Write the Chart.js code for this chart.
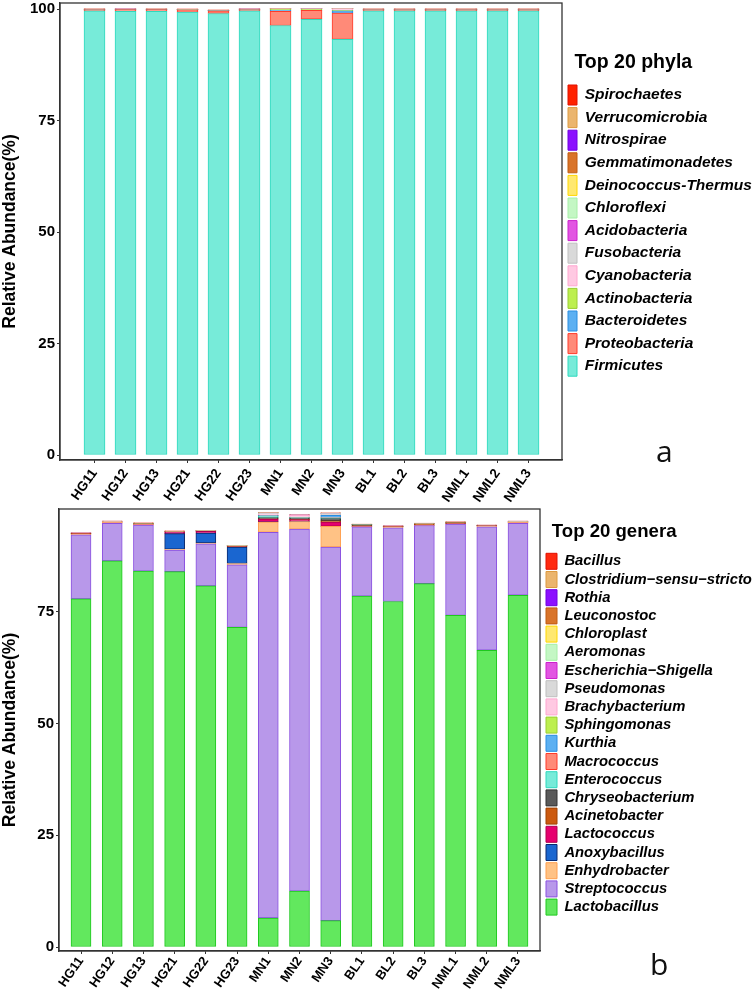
<!DOCTYPE html>
<html><head><meta charset="utf-8">
<script src="https://cdn.jsdelivr.net/npm/chart.js@4.4.0/dist/chart.umd.min.js"></script>
<style>
html,body{margin:0;padding:0;background:#fff;}
#wrap{position:relative;width:756px;height:990px;overflow:hidden;background:#fff;}
.cv{position:absolute;left:0;width:756px;}
.tag{position:absolute;font-family:"Open Sans","Noto Sans",sans-serif;font-size:30px;line-height:30px;color:#111;}
</style></head><body>
<div id="wrap">
<div class="cv" style="top:0;height:505px"><canvas id="c1"></canvas></div>
<div class="cv" style="top:505px;height:485px"><canvas id="c2"></canvas></div>
<div class="tag" style="left:656px;top:436px">a</div>
<div class="tag" style="left:650px;top:949px">b</div>
</div>
<script>
// ---------- categories ----------
const samples = ['HG11','HG12','HG13','HG21','HG22','HG23','MN1','MN2','MN3','BL1','BL2','BL3','NML1','NML2','NML3'];
const yTicksA = [0, 25, 50, 75, 100];
const yTicksB = [0, 25, 50, 75];

// ---------- panel a: phyla (stack order bottom -> top) ----------
const phylaNames = ['Firmicutes','Proteobacteria','Bacteroidetes','Actinobacteria','Cyanobacteria','Fusobacteria','Acidobacteria','Chloroflexi','Deinococcus-Thermus','Gemmatimonadetes','Nitrospirae','Verrucomicrobia','Spirochaetes'];
const firmicutes       = [99.6, 99.5, 99.5, 99.3, 99.0, 99.6, 96.3, 97.7, 93.2, 99.6, 99.6, 99.6, 99.6, 99.6, 99.6];
const proteobacteria   = [0.3, 0.4, 0.4, 0.5, 0.6, 0.3, 3.2, 2.0, 5.9, 0.3, 0.3, 0.3, 0.3, 0.3, 0.3];
const bacteroidetes    = [0.02, 0.02, 0.02, 0.03, 0.03, 0.02, 0.25, 0.08, 0.5, 0.02, 0.02, 0.02, 0.02, 0.02, 0.02];
const actinobacteria   = [0.02, 0.03, 0.02, 0.03, 0.03, 0.03, 0.2, 0.2, 0.1, 0.02, 0.02, 0.02, 0.02, 0.02, 0.02];
const cyanobacteria    = [0.01, 0.01, 0.01, 0.01, 0.01, 0.01, 0.03, 0.03, 0.3, 0.01, 0.01, 0.01, 0.01, 0.01, 0.01];
const fusobacteria     = [0.01, 0.01, 0.01, 0.01, 0.01, 0.01, 0.02, 0.02, 0.03, 0.01, 0.01, 0.01, 0.01, 0.01, 0.01];
const acidobacteria    = [0.01, 0.01, 0.01, 0.01, 0.01, 0.01, 0.01, 0.01, 0.02, 0.01, 0.01, 0.01, 0.01, 0.01, 0.01];
const chloroflexi      = [0.01, 0.01, 0.01, 0.01, 0.01, 0.01, 0.01, 0.01, 0.02, 0.01, 0.01, 0.01, 0.01, 0.01, 0.01];
const deinococcus      = [0.01, 0.01, 0.01, 0.01, 0.01, 0.01, 0.01, 0.01, 0.01, 0.01, 0.01, 0.01, 0.01, 0.01, 0.01];
const gemmatimonadetes = [0.01, 0.01, 0.01, 0.01, 0.01, 0.01, 0.01, 0.01, 0.01, 0.01, 0.01, 0.01, 0.01, 0.01, 0.01];
const nitrospirae      = [0.01, 0.01, 0.01, 0.01, 0.01, 0.01, 0.01, 0.01, 0.01, 0.01, 0.01, 0.01, 0.01, 0.01, 0.01];
const verrucomicrobia  = [0.01, 0.01, 0.01, 0.01, 0.01, 0.01, 0.01, 0.01, 0.01, 0.01, 0.01, 0.01, 0.01, 0.01, 0.01];
const spirochaetes     = [0.01, 0.01, 0.01, 0.1, 0.1, 0.01, 0.02, 0.02, 0.02, 0.01, 0.01, 0.01, 0.01, 0.01, 0.01];
const phylaValues = [firmicutes, proteobacteria, bacteroidetes, actinobacteria, cyanobacteria, fusobacteria, acidobacteria, chloroflexi, deinococcus, gemmatimonadetes, nitrospirae, verrucomicrobia, spirochaetes];
const phylaFill   = ['#77EBD9','#FF8A78','#5CB0F2','#BDEF4F','#FFC9E2','#D9D9D9','#E255E2','#C4F7C4','#FFE870','#D9742A','#8C10FF','#EBB56E','#FF2200'];
const phylaLine   = ['#2FD9BE','#FF3B2A','#2A8DE0','#9ACD32','#FFA6D0','#BFBFBF','#CC22CC','#A6EFA6','#FFD700','#C05A10','#7000E0','#DD9A40','#E01000'];

// ---------- panel b: genera (stack order bottom -> top) ----------
const generaNames = ['Lactobacillus','Streptococcus','Enhydrobacter','Anoxybacillus','Lactococcus','Acinetobacter','Chryseobacterium','Enterococcus','Macrococcus','Kurthia','Sphingomonas','Brachybacterium','Pseudomonas','Escherichia\u2212Shigella','Aeromonas','Chloroplast','Leuconostoc','Rothia','Clostridium\u2212sensu\u2212stricto','Bacillus'];
const lactobacillus    = [77.9, 86.4, 84.1, 84.0, 80.8, 71.5, 6.5, 12.5, 5.9, 78.5, 77.3, 81.3, 74.2, 66.4, 78.7];
const streptococcus    = [14.3, 8.4, 10.3, 4.8, 9.4, 14.0, 86.3, 81.0, 83.6, 15.5, 16.5, 13.0, 20.4, 27.6, 16.1];
const enhydrobacter    = [0.2, 0.2, 0.1, 0.2, 0.2, 0.3, 2.3, 1.7, 4.6, 0.05, 0.2, 0.05, 0.05, 0.2, 0.2];
const anoxybacillus    = [0, 0, 0, 3.5, 2.2, 3.7, 0.02, 0.02, 0.05, 0, 0, 0, 0, 0, 0];
const lactococcus      = [0.03, 0.03, 0.03, 0.35, 0.4, 0.05, 0.6, 0.4, 0.9, 0.02, 0.02, 0.02, 0.02, 0.02, 0.02];
const acinetobacter    = [0.1, 0.05, 0.2, 0.05, 0.05, 0.15, 0.1, 0.05, 0.3, 0.2, 0.05, 0.3, 0.3, 0.05, 0.05];
const chryseobacterium = [0, 0, 0, 0, 0, 0, 0.25, 0.3, 0.5, 0.2, 0.02, 0, 0, 0, 0];
const enterococcus     = [0.02, 0.02, 0.02, 0.02, 0.02, 0.02, 0.35, 0.1, 0.2, 0.02, 0.02, 0.02, 0.02, 0.02, 0.02];
const macrococcus      = [0.01, 0.01, 0.01, 0.01, 0.01, 0.01, 0.05, 0.02, 0.05, 0.01, 0.01, 0.01, 0.01, 0.01, 0.01];
const kurthia          = [0, 0, 0, 0, 0, 0, 0.1, 0.05, 0.5, 0, 0, 0, 0, 0, 0];
const sphingomonas     = [0.01, 0.01, 0.01, 0.01, 0.01, 0.01, 0.02, 0.02, 0.02, 0.01, 0.01, 0.01, 0.01, 0.01, 0.01];
const brachybacterium  = [0.02, 0.1, 0.02, 0.02, 0.02, 0.02, 0.3, 0.4, 0.1, 0.02, 0.02, 0.02, 0.02, 0.02, 0.1];
const pseudomonas      = [0.01, 0.01, 0.01, 0.01, 0.01, 0.01, 0.2, 0.05, 0.3, 0.01, 0.01, 0.01, 0.01, 0.01, 0.01];
const escherichia      = [0.01, 0.01, 0.01, 0.01, 0.01, 0.01, 0.02, 0.02, 0.02, 0.01, 0.01, 0.01, 0.01, 0.01, 0.01];
const aeromonas        = [0.01, 0.01, 0.01, 0.01, 0.01, 0.01, 0.02, 0.01, 0.02, 0.01, 0.01, 0.01, 0.01, 0.01, 0.01];
const chloroplast      = [0.01, 0.01, 0.01, 0.01, 0.01, 0.01, 0.01, 0.01, 0.01, 0.01, 0.01, 0.01, 0.01, 0.01, 0.01];
const leuconostoc      = [0.01, 0.01, 0.01, 0.01, 0.01, 0.01, 0.01, 0.01, 0.01, 0.01, 0.01, 0.01, 0.01, 0.01, 0.01];
const rothia           = [0.01, 0.01, 0.01, 0.01, 0.01, 0.01, 0.01, 0.01, 0.01, 0.01, 0.01, 0.01, 0.01, 0.01, 0.01];
const clostridium      = [0.02, 0.02, 0.02, 0.02, 0.02, 0.02, 0.02, 0.02, 0.02, 0.02, 0.02, 0.02, 0.02, 0.02, 0.02];
const bacillus         = [0.02, 0.02, 0.02, 0.1, 0.05, 0.02, 0.02, 0.02, 0.02, 0.02, 0.02, 0.02, 0.02, 0.02, 0.02];
const generaValues = [lactobacillus, streptococcus, enhydrobacter, anoxybacillus, lactococcus, acinetobacter, chryseobacterium, enterococcus, macrococcus, kurthia, sphingomonas, brachybacterium, pseudomonas, escherichia, aeromonas, chloroplast, leuconostoc, rothia, clostridium, bacillus];
const generaFill = ['#62E85E','#B898EA','#FFC285','#1A66D0','#E6006E','#CC5A10','#5A5A5A','#77EBD9','#FF8A78','#5CB0F2','#BDEF4F','#FFC9E2','#D9D9D9','#E255E2','#C4F7C4','#FFE870','#D9742A','#8C10FF','#EBB56E','#FF2A10'];
const generaLine = ['#1EC81E','#8A50E0','#FFA050','#0A2A70','#B0004F','#A04000','#333333','#2FD9BE','#FF3B2A','#2A8DE0','#9ACD32','#FFA6D0','#BFBFBF','#CC22CC','#A6EFA6','#FFD700','#C05A10','#7000E0','#DD9A40','#E01000'];

const FAM = '"Liberation Sans", Arial, sans-serif';
Chart.defaults.font.family = FAM;
Chart.defaults.color = '#000';

function makeChart(id, cfg) {
  const frame = {
    id: 'frame',
    afterDatasetsDraw(chart) {
      const {ctx, chartArea: a} = chart;
      ctx.save();
      ctx.strokeStyle = '#333';
      ctx.lineWidth = 1.3;
      ctx.strokeRect(a.left, a.top, a.right - a.left, a.bottom - a.top);
      ctx.restore();
    }
  };
  const fixLegend = {
    id: 'fixLegend',
    beforeLayout(chart) {
      const lg = chart.legend;
      if (lg && !lg.__patched) {
        lg.__patched = true;
        const f = lg.fit;
        lg.fit = function () { f.call(this); this.width = cfg.legendW; };
        ['drawTitle', '_drawTitle'].forEach(name => {
          const t = lg[name];
          if (typeof t === 'function') {
            lg[name] = function () { const l = this.left; this.left = l + cfg.titleDx; t.call(this); this.left = l; };
          }
        });
      }
    }
  };
  const datasets = cfg.names.map((n, k) => ({
    label: n,
    data: cfg.values[k].map((v, i) => ({x: i, y: v})),
    backgroundColor: cfg.fills[k],
    borderColor: cfg.lines[k],
    borderWidth: 1,
    borderSkipped: false,
    barThickness: cfg.barW
  }));
  return new Chart(document.getElementById(id), {
    type: 'bar',
    data: {datasets},
    plugins: [frame, fixLegend],
    options: {
      responsive: true,
      maintainAspectRatio: false,
      animation: false,
      layout: {padding: {top: cfg.padTop, left: 0, right: 0, bottom: 0}},
      plugins: {
        tooltip: {enabled: false},
        legend: {
          position: 'right',
          align: 'start',
          reverse: true,
          labels: {
            boxWidth: cfg.boxW, boxHeight: cfg.boxH, padding: cfg.legPad, color: '#000',
            font: {family: FAM, size: cfg.legFont, style: 'italic', weight: 'bold'}
          },
          title: {
            display: true, text: cfg.title, position: 'start', color: '#000',
            font: {family: FAM, size: cfg.titleFont, weight: 'bold'},
            padding: {top: cfg.titlePadTop, bottom: cfg.titlePadBottom}
          }
        }
      },
      scales: {
        x: {
          type: 'linear', stacked: true, min: cfg.xmin, max: cfg.xmax, offset: false,
          afterBuildTicks: s => { s.ticks = samples.map((_, i) => ({value: i})); },
          afterFit: s => { s.height = cfg.xH; s.paddingLeft = 0; s.paddingRight = 0; },
          grid: {display: true, offset: false, drawOnChartArea: false, drawTicks: true, tickLength: 3, color: '#333', lineWidth: 1},
          border: {display: true, color: '#333', width: 1.3},
          ticks: {
            autoSkip: false, maxRotation: 55, minRotation: 55, padding: cfg.xPad, color: '#000',
            font: {family: FAM, size: cfg.xFont, weight: 'bold'},
            callback: (v, i) => samples[i]
          }
        },
        y: {
          stacked: true, min: cfg.ymin, max: cfg.ymax,
          afterBuildTicks: s => { s.ticks = cfg.yTicks.map(v => ({value: v})); },
          afterFit: s => { s.width = cfg.yW; s.paddingTop = 0; s.paddingBottom = 0; },
          grid: {display: true, drawOnChartArea: false, drawTicks: true, tickLength: 3, color: '#333', lineWidth: 1},
          border: {display: true, color: '#333', width: 1.3},
          ticks: {padding: 2, color: '#000', font: {family: FAM, size: 15, weight: 'bold'}},
          title: {display: true, text: 'Relative Abundance(%)', color: '#000',
                  font: {family: FAM, size: 17.5, weight: 'bold'}, padding: {top: 0, bottom: 0}}
        },
        y2: {
          position: 'right', display: true,
          grid: {display: false}, border: {display: false}, ticks: {display: false},
          afterFit: s => { s.width = cfg.gapR; s.paddingTop = 0; s.paddingBottom = 0; }
        }
      }
    }
  });
}

makeChart('c1', {
  names: phylaNames, values: phylaValues, fills: phylaFill, lines: phylaLine,
  title: 'Top 20 phyla', titleFont: 19.5, titlePadTop: 50.25, titlePadBottom: 5.75, titleDx: 9,
  legFont: 15.5, boxW: 9, boxH: 20, legPad: 2.6, legendW: 190.6, gapR: 3.4,
  padTop: 3, xH: 45, yW: 60, barW: 21, xPad: 3, xFont: 13.5,
  xmin: -1.113, xmax: 15.08, ymin: -1.12, ymax: 101.35, yTicks: yTicksA
});

makeChart('c2', {
  names: generaNames, values: generaValues, fills: generaFill, lines: generaLine,
  title: 'Top 20 genera', titleFont: 18.6, titlePadTop: 13.7, titlePadBottom: 6.08, titleDx: 8,
  legFont: 14.8, boxW: 11, boxH: 16, legPad: 2.2, legendW: 212.2, gapR: 3.8,
  padTop: 4, xH: 39, yW: 59, barW: 20, xPad: 0, xFont: 13,
  xmin: -0.705, xmax: 14.705, ymin: -0.89, ymax: 98.0, yTicks: yTicksB
});
</script>
</body></html>
